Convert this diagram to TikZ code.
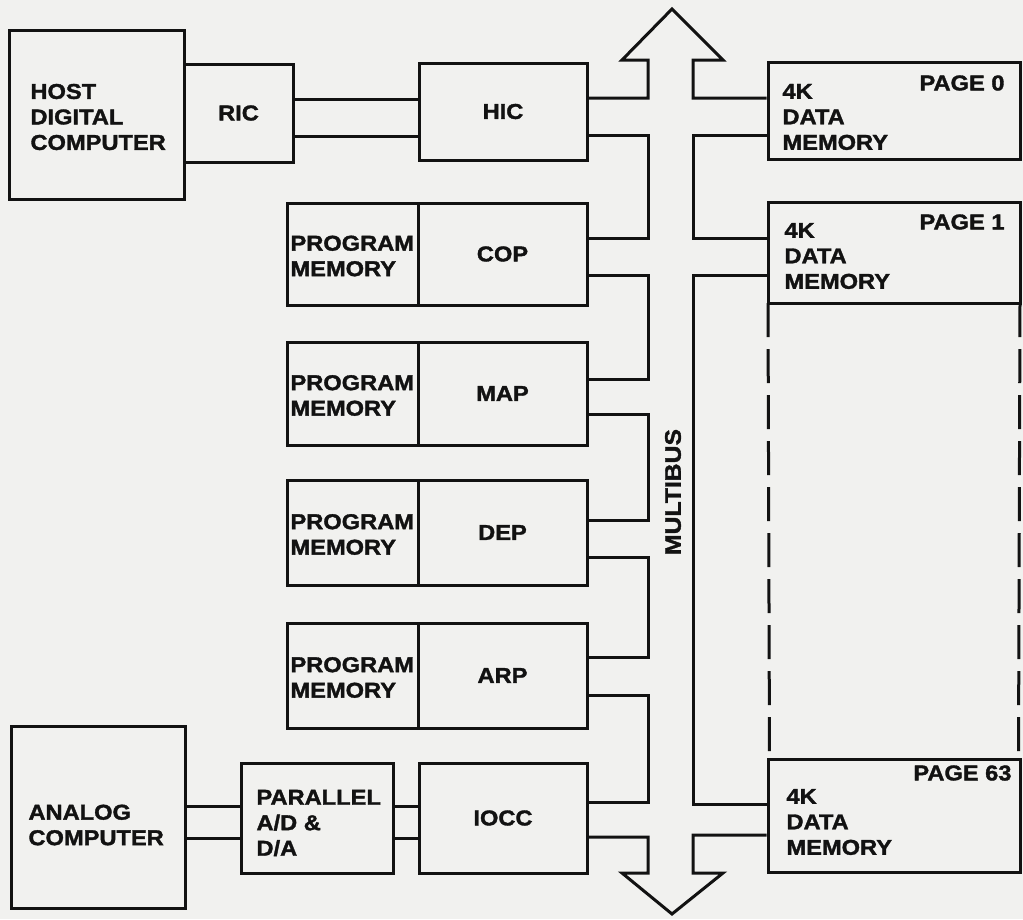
\documentclass[tikz,border=0pt]{standalone}
\usepackage{fontspec}
\setmainfont{Liberation Sans}[FakeStretch=1.1,FakeBold=1.6]
\definecolor{paper}{RGB}{241,241,239}
\definecolor{ink}{RGB}{18,18,18}
\begin{document}
\begin{tikzpicture}[x=1pt,y=-1pt, line width=3pt, color=ink,
  lab/.style={font=\fontsize{21.5}{25.5}\selectfont\bfseries, text=ink, inner sep=0pt, align=left},
  blk/.style={draw=ink, line width=3pt, inner sep=0pt, font=\fontsize{21.5}{25.5}\selectfont\bfseries, text=ink},
  dashline/.style={dash pattern=on 34pt off 12pt}
]
\fill[paper] (0,0) rectangle (1023,919);
\useasboundingbox (0,0) rectangle (1023,919);

% boxes (centre, width, height)
\node[blk, minimum width=175pt, minimum height=169pt] (host) at (96.5,114.5) {};
\node[blk, minimum width=109pt, minimum height=98pt] (ric) at (238.5,113) {RIC};
\node[blk, minimum width=168pt, minimum height=97pt] (hic) at (503,111.5) {HIC};

\node[blk, minimum width=131pt, minimum height=102pt] (pm1) at (352.5,254) {};
\node[blk, minimum width=169pt, minimum height=102pt] (cop) at (502.5,254) {COP};
\node[blk, minimum width=131pt, minimum height=103pt] (pm2) at (352.5,393.5) {};
\node[blk, minimum width=169pt, minimum height=103pt] (map) at (502.5,393.5) {MAP};
\node[blk, minimum width=131pt, minimum height=105pt] (pm3) at (352.5,532.5) {};
\node[blk, minimum width=169pt, minimum height=105pt] (dep) at (502.5,532.5) {DEP};
\node[blk, minimum width=131pt, minimum height=105pt] (pm4) at (352.5,675.5) {};
\node[blk, minimum width=169pt, minimum height=105pt] (arp) at (502.5,675.5) {ARP};

\node[blk, minimum width=174pt, minimum height=182pt] (analog) at (98,817) {};
\node[blk, minimum width=152pt, minimum height=110pt] (par) at (317,818) {};
\node[blk, minimum width=168pt, minimum height=110pt] (iocc) at (503,818) {IOCC};

\node[blk, minimum width=252pt, minimum height=97pt] (p0) at (894,110.5) {};
\node[blk, minimum width=252pt, minimum height=101pt] (p1) at (894,252.5) {};
\node[blk, minimum width=252pt, minimum height=113pt] (p63) at (894,815.5) {};

% texts
\node[lab, anchor=west] (thost) at (29,117) {HOST\\DIGITAL\\COMPUTER};
\node[lab, anchor=west] (tpm1) at (289,256) {PROGRAM\\MEMORY};
\node[lab, anchor=west] (tpm2) at (289,395.5) {PROGRAM\\MEMORY};
\node[lab, anchor=west] (tpm3) at (289,534.5) {PROGRAM\\MEMORY};
\node[lab, anchor=west] (tpm4) at (289,677.5) {PROGRAM\\MEMORY};
\node[lab, anchor=west] (tana) at (27,825) {ANALOG\\COMPUTER};
\node[lab, anchor=west] (tpar) at (255,823) {PARALLEL\\A/D \&\\D/A};
\node[lab, anchor=east] (tpg0) at (1006,83) {PAGE 0};
\node[lab, anchor=west] (tm0) at (781,117) {4K\\DATA\\MEMORY};
\node[lab, anchor=east] (tpg1) at (1006,222) {PAGE 1};
\node[lab, anchor=west] (tm1) at (783,256) {4K\\DATA\\MEMORY};
\node[lab, anchor=east] (tpg63) at (1013,773) {PAGE 63};
\node[lab, anchor=west] (tm63) at (785,822) {4K\\DATA\\MEMORY};
\node[lab, rotate=90, font=\fontsize{22.5}{25.5}\selectfont\bfseries] (tbus) at (673,492) {MULTIBUS};

% host side links
\draw (ric.east |- 0,99) -- (hic.west |- 0,99);
\draw (ric.east |- 0,136) -- (hic.west |- 0,136);
\draw (analog.east |- 0,806) -- (par.west |- 0,806);
\draw (analog.east |- 0,838) -- (par.west |- 0,838);
\draw (par.east |- 0,806) -- (iocc.west |- 0,806);
\draw (par.east |- 0,838) -- (iocc.west |- 0,838);

% multibus outline with its taps
\draw[line join=miter] (hic.east |- 0,98) -- (648,98) -- (648,60) -- (622,60) -- (672,9)
      -- (723,60) -- (693,60) -- (693,98) -- (p0.west |- 0,98);
\draw (hic.east |- 0,135) -- (648,135) -- (648,238) -- (cop.east |- 0,238);
\draw (cop.east |- 0,275) -- (648,275) -- (648,379) -- (map.east |- 0,379);
\draw (map.east |- 0,414) -- (648,414) -- (648,520) -- (dep.east |- 0,520);
\draw (dep.east |- 0,557) -- (648,557) -- (648,657) -- (arp.east |- 0,657);
\draw (arp.east |- 0,695) -- (648,695) -- (648,802) -- (iocc.east |- 0,802);
\draw[line join=miter] (iocc.east |- 0,837) -- (648,837) -- (648,873) -- (622,873) -- (672,914)
      -- (723,873) -- (693,873) -- (693,835) -- (p63.west |- 0,835);
\draw (p63.west |- 0,804) -- (693,804) -- (693,275) -- (p1.west |- 0,275);
\draw (p1.west |- 0,238) -- (693,238) -- (693,135) -- (p0.west |- 0,135);

% dashed continuation of the page stack
\draw[dashline] (p1.south west) ++(1.5,-1.5) -- (p63.north west -| 769.5,0);
\draw[dashline] (p1.south east) ++(-1.5,-1.5) -- (1018.5,757);
\end{tikzpicture}
\end{document}
